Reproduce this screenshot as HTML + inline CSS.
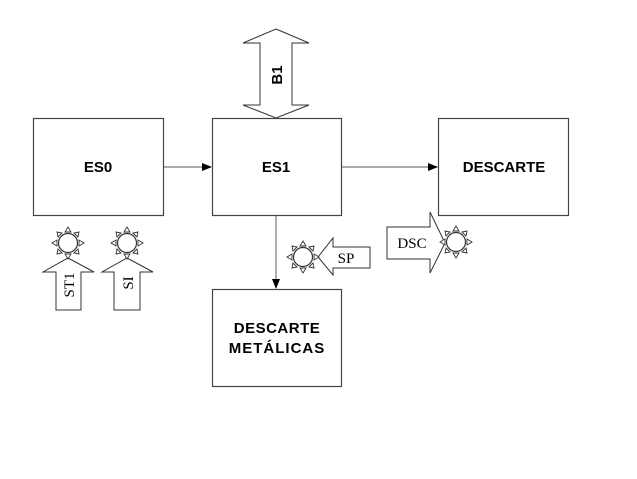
<!DOCTYPE html>
<html><head><meta charset="utf-8"><style>
html,body{margin:0;padding:0;background:#fff;}
svg{display:block;}
.b{font-family:"Liberation Sans",Arial,sans-serif;font-weight:bold;font-size:15px;fill:#000;}
.s{font-family:"Liberation Serif",serif;font-size:15px;fill:#000;}
</style></head><body>
<svg width="637" height="479" viewBox="0 0 637 479" xmlns="http://www.w3.org/2000/svg">
<defs>
<g id="sun" fill="#fff" stroke="#333" stroke-width="0.9">
<circle r="9.5" stroke-width="1.2"/>
<polygon points="-3,-11 3,-11 0,-16"/>
<polygon points="-3,11 3,11 0,16"/>
<polygon points="-11,-3 -11,3 -16,0"/>
<polygon points="11,-3 11,3 16,0"/>
<polygon points="-10,-6 -6,-10 -11,-11"/>
<polygon points="10,-6 6,-10 11,-11"/>
<polygon points="-10,6 -6,10 -11,11"/>
<polygon points="10,6 6,10 11,11"/>
</g>
<marker id="ah" markerWidth="10" markerHeight="8" refX="9" refY="4" orient="auto" markerUnits="userSpaceOnUse">
<polygon points="0,0 10,4 0,8" fill="#000"/>
</marker>
</defs>
<g fill="#fff" stroke="#444" stroke-width="1.2">
<rect x="33.5" y="118.5" width="130" height="97"/>
<rect x="212.5" y="118.5" width="129" height="97"/>
<rect x="438.5" y="118.5" width="130" height="97"/>
<rect x="212.5" y="289.5" width="129" height="97"/>
</g>
<g stroke="#777" stroke-width="1.2" fill="none">
<line x1="164" y1="167" x2="211" y2="167" marker-end="url(#ah)"/>
<line x1="342" y1="167" x2="437" y2="167" marker-end="url(#ah)"/>
<line x1="276" y1="216" x2="276" y2="288" marker-end="url(#ah)"/>
</g>
<text class="b" x="98" y="172" text-anchor="middle">ES0</text>
<text class="b" x="276" y="172" text-anchor="middle">ES1</text>
<text class="b" x="504" y="172" text-anchor="middle">DESCARTE</text>
<text class="b" x="277" y="333" text-anchor="middle" letter-spacing="0.5">DESCARTE</text>
<text class="b" x="277" y="353" text-anchor="middle" letter-spacing="1">METÁLICAS</text>
<polygon points="276,29 309,43 292,43 292,105 309,105 276,118 243,105 260,105 260,43 243,43" fill="#fff" stroke="#333" stroke-width="1"/>
<text class="b" transform="translate(282,75) rotate(-90)" text-anchor="middle">B1</text>
<polygon points="68,258 94,272 81,272 81,310 56,310 56,272 43,272" fill="#fff" stroke="#333" stroke-width="1"/>
<text class="s" transform="translate(74,285) rotate(-90)" text-anchor="middle">ST1</text>
<use href="#sun" x="68" y="243"/>
<polygon points="127,258 153,272 140,272 140,310 114,310 114,272 102,272" fill="#fff" stroke="#333" stroke-width="1"/>
<text class="s" transform="translate(133,283) rotate(-90)" text-anchor="middle">SI</text>
<use href="#sun" x="127" y="243"/>
<polygon points="318,257 333,238 333,247 370,247 370,268 333,268 333,275" fill="#fff" stroke="#333" stroke-width="1"/>
<text class="s" x="346" y="263" text-anchor="middle">SP</text>
<use href="#sun" x="303" y="257"/>
<polygon points="445,243 430,212 430,227 387,227 387,259 430,259 430,273" fill="#fff" stroke="#333" stroke-width="1"/>
<text class="s" x="412" y="248" text-anchor="middle">DSC</text>
<use href="#sun" x="456" y="242"/>
</svg>
</body></html>
